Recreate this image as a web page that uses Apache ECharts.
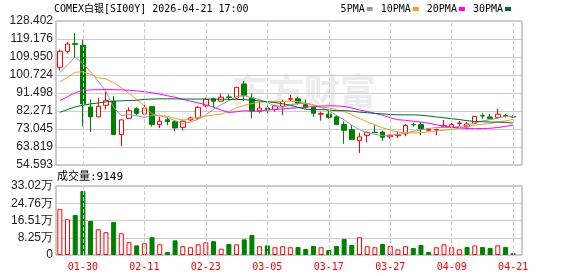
<!DOCTYPE html>
<html><head><meta charset="utf-8">
<script src="https://cdn.jsdelivr.net/npm/echarts@6/dist/echarts.min.js"></script>
<style>html,body{margin:0;padding:0;background:#fff}#c{width:578px;height:276px}</style>
</head><body><div id="c"></div>
<script>
const dates = ['01-27','01-28','01-29','01-30','02-02','02-03','02-04','02-05','02-06','02-09','02-10','02-11','02-12','02-13','02-16','02-17','02-18','02-19','02-20','02-23','02-24','02-25','02-26','02-27','03-02','03-03','03-04','03-05','03-06','03-09','03-10','03-11','03-12','03-13','03-16','03-17','03-18','03-19','03-20','03-23','03-24','03-25','03-26','03-27','03-30','03-31','04-01','04-02','04-06','04-07','04-08','04-09','04-10','04-13','04-14','04-15','04-16','04-17','04-20','04-21'];
const opens  = [104.67,112.87,116.8,115.95,84.32,79.26,85.19,87.28,70.2,78.5,83.44,80.7,84.5,75.3,77.8,76.8,73.9,77.7,78.7,84.9,88.5,87.3,89.5,88.9,96.1,88.9,82.4,83.8,83.0,84.7,88.3,88.5,85.5,84.2,80.6,80.7,79.3,75.3,72.7,67.1,69.8,71.4,71.5,69.0,69.6,70.5,75.4,75.3,72.4,72.6,74.0,73.9,75.9,74.2,76.0,79.9,79.2,79.0,79.9,79.5];
const closes = [112.87,116.61,116.4,85.86,79.26,84.68,87.59,70.2,77.7,82.4,81.0,83.8,75.3,77.0,76.8,73.6,77.0,78.7,84.15,88.2,87.3,89.3,89.2,94.4,90.3,82.2,83.8,82.8,84.8,87.24,88.6,86.3,84.2,81.1,80.9,79.0,75.3,72.4,67.6,68.98,71.3,71.2,68.8,69.8,70.1,74.9,75.2,73.2,72.9,72.8,74.7,75.3,76.1,75.6,79.5,79.7,78.3,80.6,79.7,79.2];
const lows   = [102.93,111.84,109.95,74.43,71.5,79.0,83.08,70.0,64.2,78.3,80.1,80.1,74.3,73.5,74.9,71.9,72.3,77.0,77.7,84.2,84.2,87.0,87.6,88.6,87.3,78.4,81.2,80.9,81.9,80.1,87.3,85.5,83.4,79.3,77.3,78.3,75.2,65.5,67.4,60.7,66.2,71.0,67.0,68.1,68.4,69.3,74.3,69.8,71.9,69.8,73.9,73.2,74.6,72.9,75.6,78.3,78.2,78.3,79.0,78.7];
const highs  = [113.69,117.64,122.25,118.82,88.22,89.08,92.16,89.96,77.9,84.15,84.15,85.86,84.9,79.3,79.0,76.9,78.0,79.3,84.7,89.1,89.1,91.3,90.9,94.7,97.6,91.3,87.3,85.2,85.4,88.1,90.6,89.6,88.2,84.3,81.9,82.4,80.1,77.0,75.1,71.0,71.8,75.1,72.2,70.1,71.8,75.6,76.3,76.6,73.6,73.2,77.7,76.3,77.3,76.6,79.6,81.4,80.7,83.4,80.7,80.1];
const ma5  = [101.9,105.9,110.0,106.4,102.4,97.5,92.3,84.0,79.9,80.5,79.8,79.0,80.0,79.9,78.8,77.3,75.9,76.6,78.1,80.3,83.1,85.5,87.6,89.7,90.1,89.1,88.0,86.7,84.8,84.2,85.5,86.0,86.2,85.5,84.2,82.3,80.1,77.7,75.0,72.7,71.1,70.3,69.6,70.0,70.2,71.0,71.8,72.6,73.3,73.8,73.8,73.8,74.4,74.9,76.2,77.2,77.8,78.7,79.6,79.5];
const ma10 = [97.2,99.5,102.1,102.4,101.0,99.3,98.7,96.8,94.2,91.4,88.2,84.9,80.8,79.9,79.6,78.5,77.5,78.3,79.0,79.6,80.2,80.7,82.1,83.9,85.2,86.1,86.8,87.2,87.2,87.1,87.3,87.0,86.5,85.1,84.2,83.9,83.0,82.0,80.3,78.4,76.7,75.2,73.7,72.5,71.5,71.0,71.0,71.1,71.6,72.0,72.4,72.8,73.5,74.1,75.0,75.5,75.8,76.6,77.2,77.9];
const ma20 = [87.6,89.6,91.6,92.8,93.1,93.2,93.3,93.2,93.1,92.9,92.6,92.2,91.6,90.9,90.1,89.3,88.3,87.3,86.4,85.5,84.2,82.8,81.5,81.9,82.4,82.3,82.1,82.8,83.1,83.3,83.7,83.9,84.3,84.5,84.7,85.0,84.9,84.6,83.8,82.8,82.0,81.1,80.1,78.8,77.8,77.5,77.0,76.6,76.0,75.2,74.5,74.0,73.6,73.3,73.2,73.3,73.4,73.8,74.4,75.0];
const ma30 = [81.6,83.0,84.4,85.2,85.9,86.4,86.9,87.3,87.5,87.6,87.8,88.2,88.4,88.5,88.5,88.5,88.4,88.4,88.4,88.4,88.4,88.3,88.2,88.2,88.1,87.8,87.4,87.0,86.6,86.0,85.2,84.2,83.1,83.0,83.0,82.8,82.4,82.5,82.2,81.7,81.4,81.0,80.8,80.5,80.3,80.3,80.3,80.1,79.7,79.2,78.8,78.3,77.9,77.3,76.9,76.8,76.6,76.6,76.4,76.1];
const volumes = [219000,171000,191000,306000,163000,123000,109000,158000,104000,61000,46000,56000,85000,51000,14000,70000,42000,37000,51000,61000,66000,30000,53000,51000,75000,96000,42000,46000,37000,42000,37000,38000,29000,43000,37000,24000,43000,77000,48000,85000,42000,37000,53000,43000,27000,42000,34000,48000,14000,37000,51000,37000,27000,38000,46000,38000,34000,46000,38000,9149];
const volUp = [1,1,0,0,0,1,1,0,1,1,0,1,0,1,0,0,1,1,1,1,0,1,0,1,0,0,1,0,1,1,1,0,0,0,1,0,0,0,0,1,1,1,0,1,1,1,0,0,0,1,1,1,1,0,1,0,0,1,0,0];
const priceTicks = ['54.593','63.819','73.045','82.271','91.498','100.724','109.950','119.176','128.402'];
const volTicks = ['0','8.25万','16.51万','24.76万','33.02万'];
const priceMin = 54.593, priceMax = 128.402, volMax = 330200;
const labelDates = ['01-30','02-11','02-23','03-05','03-17','03-27','04-09','04-21'];
const maNames = ['5PMA','10PMA','20PMA','30PMA'];

const RED = '#ff0000', GREEN = '#008000';
const maColors = ['#999999','#f0a020','#ff00ff','#006b2c'];
const mono = "'DejaVu Sans Mono','Noto Sans CJK SC',monospace";
const sans = "'Liberation Sans',Arial,sans-serif";

const kData = dates.map((d,i)=>[opens[i],closes[i],lows[i],highs[i]]);
const vLines = labelDates.map(d=>({xAxis:d}));
const vLineStyle = {type:'dashed', color:'#cccccc', width:1};

const chart = echarts.init(document.getElementById('c'), null, {renderer:'canvas'});
chart.setOption({
  animation:false,
  backgroundColor:'#fff',
  title:[
    {text:'COMEX白银[SI00Y] 2026-04-21 17:00', left:54, top:4, padding:0,
     textStyle:{fontSize:10, fontWeight:'normal', fontFamily:mono, color:'#000'}},
    {text:'成交量:9149', left:57, top:172, padding:0,
     textStyle:{fontSize:11, fontWeight:'normal', fontFamily:mono, color:'#000'}}
  ],
  legend:{
    data:maNames, top:4, right:67, padding:0, align:'right', icon:'rect',
    itemWidth:6, itemHeight:4, itemGap:8,
    textStyle:{fontSize:10, fontFamily:mono, color:'#000', padding:[0,-3,0,0]}
  },
  graphic:[{type:'text', left:232, top:73, z:0, silent:true,
    style:{text:'东方财富', font:'bold 36px "Noto Sans CJK SC"', fill:'#ececec'}}],
  grid:[
    {left:56, right:56, top:21, height:144, show:true, borderColor:'#999', borderWidth:1},
    {left:56, width:461, top:21, height:144},
    {left:56, right:56, top:186, height:69, show:true, borderColor:'#999', borderWidth:1},
    {left:56, width:461, top:186, height:69}
  ],
  xAxis:[
    {gridIndex:0, type:'value', min:0, max:1, show:false},
    {gridIndex:1, type:'category', data:dates, show:false, boundaryGap:true},
    {gridIndex:2, type:'value', min:0, max:1, show:false},
    {gridIndex:3, type:'category', data:dates, boundaryGap:true,
     axisLine:{show:false}, axisTick:{show:false}, splitLine:{show:false},
     axisLabel:{interval:(idx,val)=>labelDates.includes(val), color:RED, fontSize:10, fontFamily:mono, margin:7}}
  ],
  yAxis:[
    {gridIndex:0, type:'value', min:0, max:8, interval:1,
     axisLine:{show:false}, axisTick:{show:false},
     splitLine:{lineStyle:{color:'#cccccc', width:1}},
     axisLabel:{formatter:v=>priceTicks[v], color:'#222', fontSize:12, fontFamily:sans, margin:3}},
    {gridIndex:1, type:'value', min:priceMin, max:priceMax, show:false},
    {gridIndex:2, type:'value', min:0, max:4, interval:1,
     axisLine:{show:false}, axisTick:{show:false},
     splitLine:{lineStyle:{color:'#cccccc', width:1}},
     axisLabel:{formatter:v=>volTicks[v], color:'#222', fontSize:12, fontFamily:sans, margin:3}},
    {gridIndex:3, type:'value', min:0, max:volMax, show:false}
  ],
  series:[
    {type:'line', name:'vgrid1', xAxisIndex:1, yAxisIndex:1, data:[], z:1, silent:true,
     markLine:{silent:true, symbol:['none','none'], label:{show:false}, lineStyle:vLineStyle, data:vLines}},
    {type:'line', name:'vgrid3', xAxisIndex:3, yAxisIndex:3, data:[], z:1, silent:true,
     markLine:{silent:true, symbol:['none','none'], label:{show:false}, lineStyle:vLineStyle, data:vLines}},
    {type:'candlestick', name:'K', xAxisIndex:1, yAxisIndex:1, data:kData, barWidth:5, z:3,
     itemStyle:{color:'#ffffff', color0:GREEN, borderColor:RED, borderColor0:GREEN, borderWidth:1}},
    {type:'line', name:maNames[0], xAxisIndex:1, yAxisIndex:1, data:ma5, symbol:'none', z:4,
     lineStyle:{color:maColors[0], width:1}, itemStyle:{color:maColors[0]}},
    {type:'line', name:maNames[1], xAxisIndex:1, yAxisIndex:1, data:ma10, symbol:'none', z:4,
     lineStyle:{color:maColors[1], width:1}, itemStyle:{color:maColors[1]}},
    {type:'line', name:maNames[2], xAxisIndex:1, yAxisIndex:1, data:ma20, symbol:'none', z:4,
     lineStyle:{color:maColors[2], width:1}, itemStyle:{color:maColors[2]}},
    {type:'line', name:maNames[3], xAxisIndex:1, yAxisIndex:1, data:ma30, symbol:'none', z:4,
     lineStyle:{color:maColors[3], width:1}, itemStyle:{color:maColors[3]}},
    {type:'bar', name:'VOL', xAxisIndex:3, yAxisIndex:3, barWidth:5, z:3,
     data:volumes.map((v,i)=>({value:v, itemStyle: volUp[i]
        ? {color:'#ffffff', borderColor:RED, borderWidth:1}
        : {color:GREEN, borderColor:GREEN, borderWidth:1}}))}
  ]
});
</script></body></html>
